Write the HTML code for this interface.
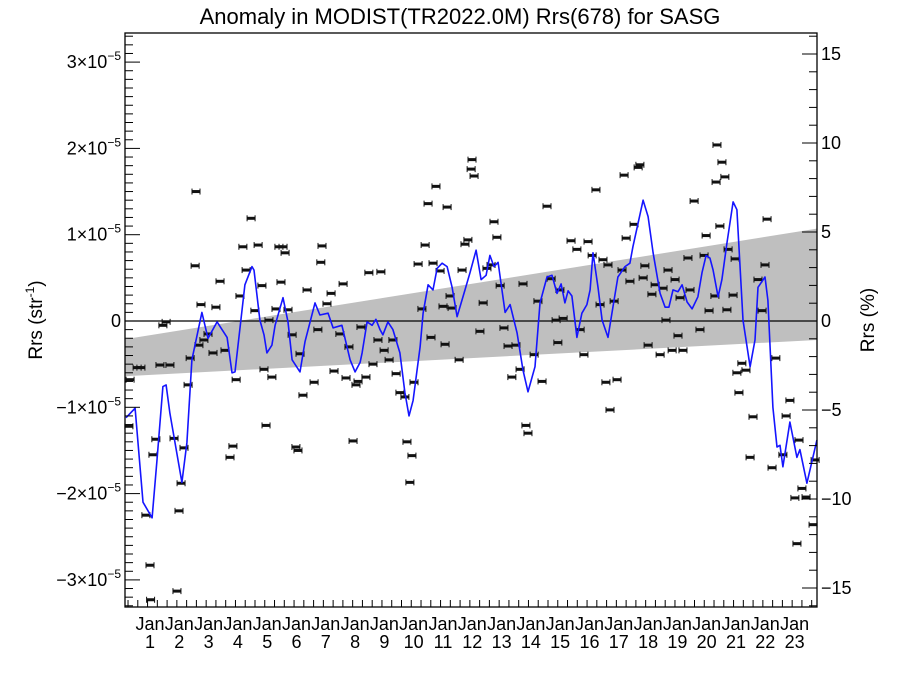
<!DOCTYPE html>
<html><head><meta charset="utf-8"><style>
html,body{margin:0;padding:0;background:#fff;}
svg{display:block;font-family:"Liberation Sans",Arial,sans-serif;}
</style></head><body>
<svg id="chart" width="900" height="675" viewBox="0 0 900 675" xmlns="http://www.w3.org/2000/svg">
<rect x="0" y="0" width="900" height="675" fill="#fff"/>
<text x="460" y="24" font-size="22" text-anchor="middle">Anomaly in MODIST(TR2022.0M) Rrs(678) for SASG</text>
<text transform="translate(42,320) rotate(-90)" font-size="19" text-anchor="middle">Rrs (str<tspan font-size="12" dy="-8">-1</tspan><tspan dy="8">)</tspan></text>
<text transform="translate(874,320) rotate(-90)" font-size="19" text-anchor="middle">Rrs (%)</text>
<g id="band"></g>
<g id="zero"></g>
<g id="pts"></g>
<g id="line"></g>
<g id="axes"></g>
</svg>
<script>
// data (time in years since Jan year 1; values in 1e-6 sr^-1)
const lineT=[-0.82,-0.51,-0.24,0.07,0.24,0.44,0.55,0.68,1.09,1.26,1.43,1.77,1.98,2.29,2.63,2.80,2.90,3.24,3.48,3.55,3.75,3.89,3.99,4.16,4.27,4.54,4.71,4.85,5.12,5.29,5.63,5.80,6.08,6.25,6.55,6.83,7.00,7.17,7.24,7.41,7.58,7.71,7.85,7.95,8.12,8.29,8.53,8.70,8.84,8.98,9.22,9.32,9.49,9.66,9.80,9.97,10.14,10.31,10.48,10.75,10.92,11.13,11.30,11.47,11.60,11.74,11.88,12.12,12.29,12.53,12.73,12.90,13.14,13.31,13.55,13.72,13.89,14.03,14.16,14.27,14.40,14.57,14.74,14.91,15.02,15.12,15.29,15.43,15.63,15.80,15.97,16.21,16.38,16.48,16.83,17.00,17.17,17.41,17.58,17.71,17.85,18.02,18.16,18.33,18.50,18.70,18.84,18.98,19.11,19.22,19.39,19.52,19.69,19.90,20.03,20.24,20.48,20.65,20.75,20.99,21.09,21.26,21.40,21.50,21.60,21.84,22.08,22.18,22.42,22.76];
const lineV=[-11.2,-10.1,-21.0,-22.8,-16.1,-7.6,-7.4,-10.7,-18.7,-14.1,-4.5,1.0,-2.0,-0.1,-1.9,-6.0,-5.9,4.2,6.3,5.9,0.1,-1.6,-3.7,-2.8,-0.5,2.7,-0.1,-4.5,-5.9,-2.4,2.1,0.7,0.9,-0.8,-0.5,-4.5,-5.9,-4.8,-3.7,-0.1,-0.5,0.2,-1.0,-1.6,-0.1,-1.0,-3.7,-8.3,-11.0,-9.2,-3.0,0.9,4.2,3.6,6.1,6.7,6.3,3.9,0.5,3.6,5.6,8.2,4.8,5.3,7.6,6.3,6.8,1.0,1.9,-1.4,-5.7,-8.2,-5.3,2.1,5.1,5.3,3.2,4.3,2.1,3.5,2.9,-1.9,0.9,1.9,3.6,7.9,3.9,0.1,-1.9,1.6,5.1,6.3,6.7,8.6,14.0,12.1,7.9,3.2,1.6,1.6,3.6,3.4,4.2,2.2,1.4,2.8,5.6,7.6,7.3,5.9,2.8,4.8,9.0,13.8,12.9,0.1,-5.3,-2.2,3.9,5.1,2.4,-10.0,-14.6,-14.4,-16.9,-11.7,-15.8,-14.9,-18.8,-13.8];
const ptT=[-0.72,-0.68,-0.44,-0.31,-0.14,0,0.02,0.10,0.20,0.34,0.44,0.55,0.68,0.82,0.92,0.99,1.06,1.16,1.30,1.37,1.57,1.54,1.67,1.74,1.84,1.98,2.15,2.25,2.39,2.56,2.73,2.83,2.94,3.07,3.17,3.28,3.45,3.58,3.69,3.82,3.89,3.96,4.06,4.16,4.30,4.40,4.47,4.54,4.61,4.71,4.85,4.98,5.05,5.12,5.22,5.36,5.60,5.73,5.83,5.87,6.04,6.18,6.28,6.48,6.59,6.69,6.79,6.93,7.03,7.10,7.20,7.37,7.47,7.61,7.78,7.88,7.99,8.16,8.29,8.40,8.53,8.70,8.77,8.87,8.94,9.01,9.15,9.28,9.39,9.49,9.59,9.66,9.76,9.90,10.00,10.07,10.14,10.24,10.31,10.55,10.65,10.75,10.85,10.96,10.99,11.06,11.26,11.37,11.50,11.64,11.74,11.84,11.95,12.08,12.22,12.35,12.49,12.63,12.73,12.83,12.90,13.11,13.24,13.38,13.55,13.69,13.86,13.92,13.99,14.10,14.37,14.57,14.68,14.81,14.95,15.09,15.22,15.36,15.46,15.56,15.63,15.70,15.84,15.94,16.11,16.18,16.25,16.38,16.52,16.66,16.72,16.83,16.89,17.00,17.13,17.24,17.41,17.51,17.61,17.68,17.82,17.92,18.02,18.09,18.19,18.36,18.43,18.57,18.77,18.91,18.98,19.08,19.28,19.32,19.35,19.45,19.52,19.62,19.69,19.73,19.90,19.97,20.03,20.10,20.20,20.34,20.48,20.58,20.75,20.89,20.99,21.06,21.23,21.36,21.60,21.71,21.84,22.01,22.08,22.15,22.25,22.39,22.63,22.70];
const ptV=[-12.2,-6.8,-5.4,-5.4,-22.5,-28.3,-32.3,-15.5,-13.7,-5.1,-0.5,-0.1,-5.1,-13.6,-31.3,-22.0,-18.8,-14.7,-7.4,-4.3,15.0,6.4,-2.8,1.9,-2.2,-1.5,-3.7,1.6,4.6,-3.4,-15.8,-14.5,-6.8,2.9,8.6,5.9,11.9,1.2,8.8,4.1,-5.6,-12.1,0.1,-6.5,1.4,8.6,4.5,8.6,7.9,1.3,-1.6,-14.6,-15.0,-3.8,-8.6,3.6,-7.1,-1.0,6.8,8.7,2.0,3.2,-5.8,-1.5,4.3,-6.6,-3.0,-13.9,-7.4,-7.0,-0.7,-6.5,5.6,-5.0,-2.2,5.7,-3.4,-4.5,-2.2,-6.1,-8.3,-8.8,-14.0,-18.7,-15.6,-7.1,6.6,1.4,8.8,13.6,-1.9,6.7,15.6,5.8,1.7,-2.7,13.2,2.9,1.5,-4.5,5.9,8.9,9.4,17.6,18.7,16.8,-1.2,2.1,6.1,6.5,11.5,9.7,4.1,-0.8,-2.9,-6.5,-2.8,-5.6,4.3,-12.1,-13.0,-3.9,2.3,-7.0,13.3,4.9,0.1,-2.5,3.6,0.3,9.3,8.3,-1.0,-3.9,9.2,7.6,15.2,1.9,7.1,-7.1,6.5,-10.3,2.3,-6.8,5.9,16.9,9.6,4.6,11.2,17.8,18.1,5.0,6.4,-2.8,3.1,4.2,-3.9,3.8,0.1,5.9,-3.4,4.8,-1.7,2.7,-3.4,7.3,3.6,13.9,-1.0,7.6,9.9,1.2,2.9,16.1,20.4,11.0,18.4,16.7,1.3,8.3,3.0,7.2,-6.0,-8.3,-4.9,-5.7,-15.8,-11.1,4.8,1.2,6.5,11.8,-17.0,-4.3,-15.5,-11.0,-9.2,-20.5,-25.8,-13.8,-19.4,-20.4,-23.6,-16.1];
const bandT=[-0.85,22.76];
const bandUpper=[-2.1,10.7];
const bandLower=[-6.4,-2.2];
const yTicks=[-30,-20,-10,0,10,20,30];
const yTickLabels=["\u22123\u00d710","\u22122\u00d710","\u22121\u00d710","0","1\u00d710","2\u00d710","3\u00d710"];
const pctTicks=[-15,-10,-5,0,5,10,15];
const yearLabels=["1","2","3","4","5","6","7","8","9","10","11","12","13","14","15","16","17","18","19","20","21","22","23"];

const NS="http://www.w3.org/2000/svg";
const L=125,R=817,T=33,B=607;
const xS=t=>150+t*29.3;
const yS=v=>321-v*8.63;
const pS=p=>321-p*17.8;
function mk(tag,attrs,parent){const e=document.createElementNS(NS,tag);for(const k in attrs)e.setAttribute(k,attrs[k]);parent.appendChild(e);return e;}

// band
const bg=document.getElementById('band');
const poly=mk('polygon',{points:`${xS(bandT[0])},${yS(bandUpper[0])} ${xS(bandT[1])},${yS(bandUpper[1])} ${xS(bandT[1])},${yS(bandLower[1])} ${xS(bandT[0])},${yS(bandLower[0])}`,fill:'#bfbfbf'},bg);



// zero line
const zl=mk('line',{x1:L,x2:R,y1:yS(0),y2:yS(0),stroke:'#000','stroke-width':1.3},document.getElementById('zero'));



// points
const pg=document.getElementById('pts');
for(let i=0;i<ptT.length;i++){
  const x=xS(ptT[i]),y=yS(ptV[i]);
  const g=mk('g',{},pg);
  
  
  mk('rect',{x:x-4,y:y-1.5,width:8,height:3,fill:'#111'},g);
  mk('line',{x1:x-4,x2:x-4,y1:y-3,y2:y+3,stroke:'#111','stroke-width':1},g);
  mk('line',{x1:x+4,x2:x+4,y1:y-3,y2:y+3,stroke:'#111','stroke-width':1},g);
}

// line
let d='';
for(let i=0;i<lineT.length;i++){d+=(i?'L':'M')+xS(lineT[i]).toFixed(1)+','+yS(lineV[i]).toFixed(1);}
const pl=mk('path',{d:d,fill:'none',stroke:'#1515ff','stroke-width':1.6,'stroke-linejoin':'round'},document.getElementById('line'));



// axes
const ax=document.getElementById('axes');
const fr=mk('rect',{x:L,y:T,width:R-L,height:B-T,fill:'none',stroke:'#000','stroke-width':1.3},ax);


// left minor ticks
for(let v=-33;v<=33;v++){const y=yS(v);if(y<T||y>B)continue;const maj=v%10===0;mk('line',{x1:L,x2:L+(maj?15:8),y1:y,y2:y,stroke:'#000','stroke-width':1},ax);}
for(let i=0;i<yTicks.length;i++){
  const y=yS(yTicks[i]);
  const tx=mk('text',{x:L-4,y:y+6,'font-size':18,'text-anchor':'end'},ax);
  
  
  tx.textContent=yTickLabels[i];
  if(yTicks[i]!==0){const s=mk('tspan',{'font-size':12,dy:-8},tx);s.textContent='\u22125';}
}
// right ticks
for(let p=-16;p<=16;p++){const y=pS(p);if(y<T||y>B)continue;const maj=p%5===0;mk('line',{x1:R,x2:R-(maj?15:8),y1:y,y2:y,stroke:'#000','stroke-width':1},ax);}
for(let i=0;i<pctTicks.length;i++){
  const tx=mk('text',{x:R+4,y:pS(pctTicks[i])+6,'font-size':18,'text-anchor':'start'},ax);
  
  
  tx.textContent=pctTicks[i]<0?'\u2212'+(-pctTicks[i]):String(pctTicks[i]);
}
// bottom ticks
for(let m=-9;m<=22*12+9;m+=4){const x=xS(m/12);if(x<L||x>R)continue;const maj=m%12===0;mk('line',{x1:x,x2:x,y1:B,y2:B-(maj?15:7),stroke:'#000','stroke-width':1},ax);}
for(let i=0;i<yearLabels.length;i++){
  const x=xS(i);
  const j=mk('text',{x:x,y:630,'font-size':18,'text-anchor':'middle'},ax);
  
  
  j.textContent='Jan';
  const n=mk('text',{x:x,y:648,'font-size':18,'text-anchor':'middle'},ax);
  
  
  n.textContent=yearLabels[i];
}
</script>
</body></html>
